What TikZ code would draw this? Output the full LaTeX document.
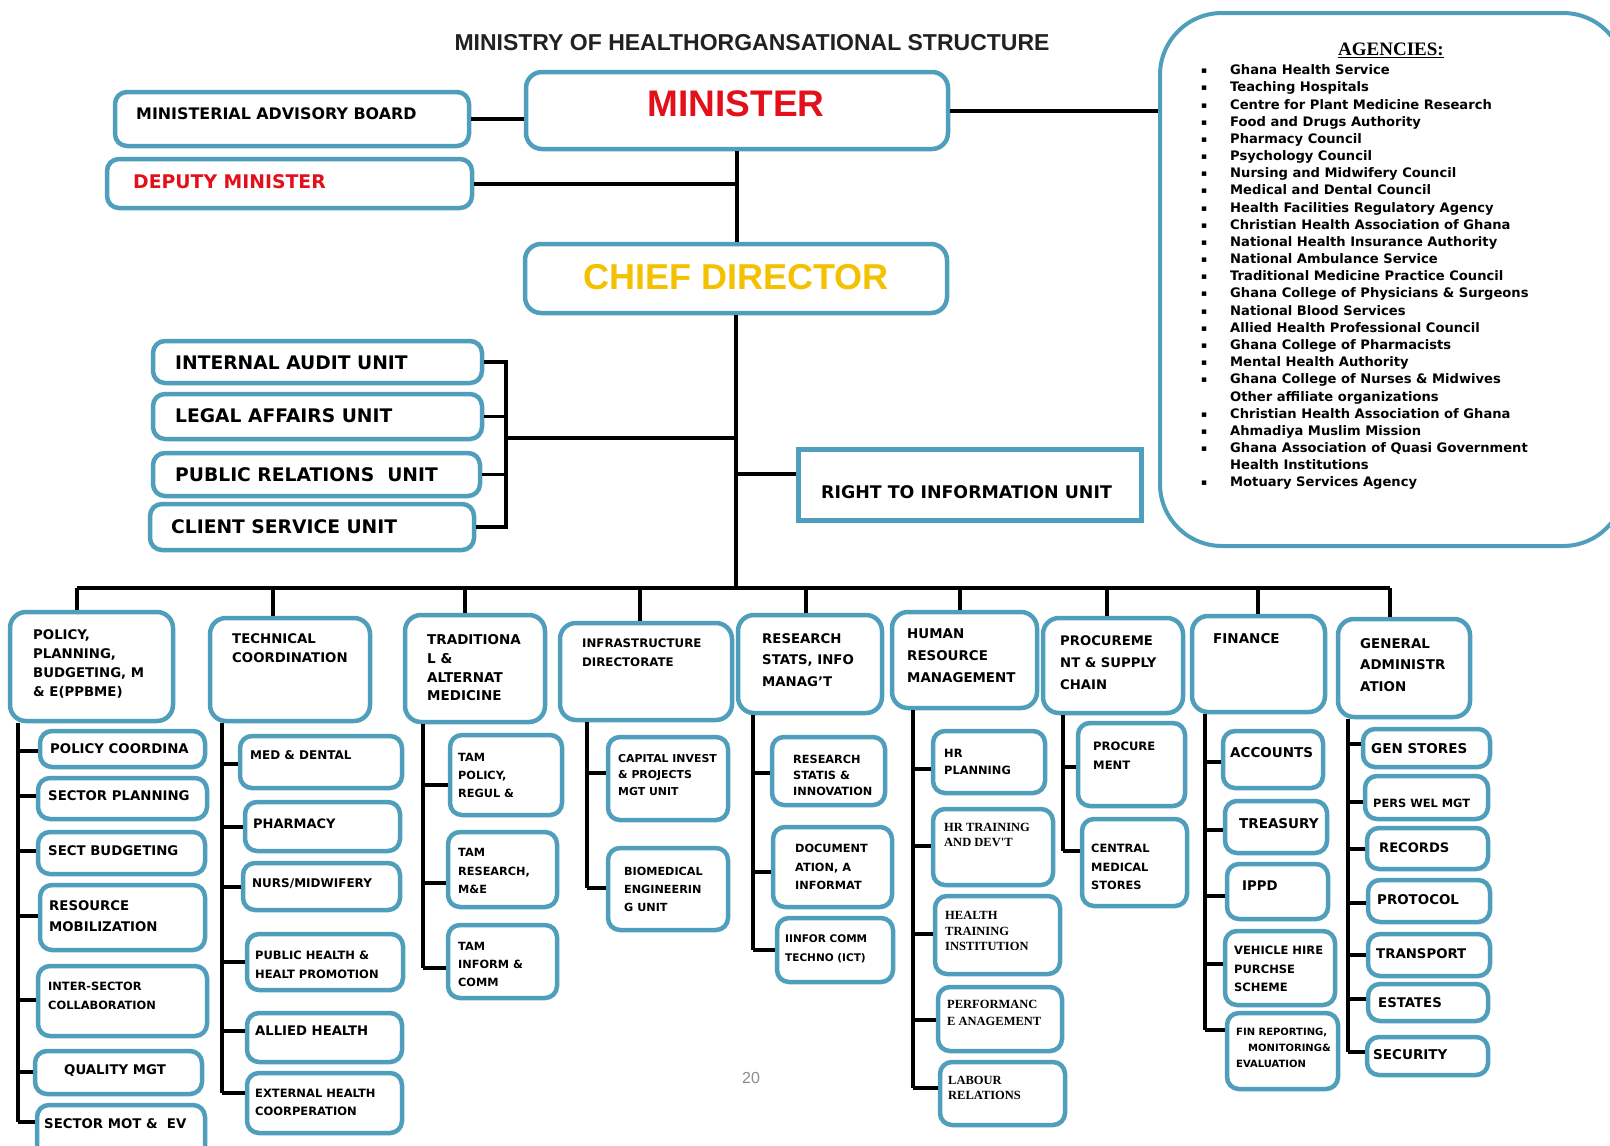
\documentclass[tikz,border=0pt]{standalone}
\usepackage{fontspec}
\setmainfont{DejaVu Sans}
\newfontfamily\mohArial{Liberation Sans}
\newfontfamily\mohSerif{Liberation Serif}
\newcommand{\mohF}[2]{\fontsize{#1}{#2}\selectfont}
\definecolor{bxblue}{HTML}{4E9EBC}
\definecolor{mred}{HTML}{E3101B}
\definecolor{mgold}{HTML}{F3C100}
\tikzset{
  ubx/.style={draw=bxblue, line width=4.5pt, rounded corners=12pt, fill=white, inner sep=0pt},
  hbx/.style={ubx, rounded corners=16pt},
  conn/.style={line width=3.5pt, black},
  txt/.style={anchor=west, inner sep=0pt, align=left, font=\bfseries\mohF{13.3}{19}},
  smtxt/.style={txt, font=\bfseries\mohF{11.3}{17.5}},
  sertxt/.style={txt, font=\mohSerif\bfseries\mohF{12.5}{15}},
  toptxt/.style={anchor=west, inner sep=0pt, font=\bfseries\mohF{18.7}{20}}
}
\newcommand{\ubox}[6][]{\node[ubx,#1,minimum width={#5-#3},minimum height={#6-#4}] (#2) at ({(#3+#5)/2},{(#4+#6)/2}) {};}
\newcommand{\utx}[5][]{\node[txt,#1] (#2) at (#3,#4) {#5};}
\newcommand{\ustub}[3]{\draw[conn] (#1 |- 0,#2) -- (#3.west |- 0,#2);}
\newcommand{\uvert}[3]{\draw[conn] (#1.south -| #2) -- (#2 |- 0,#3);}
\newcommand{\agb}{\makebox[29pt][l]{\raisebox{1pt}{\mohF{9}{9}▪}}}
\newcommand{\agn}{\makebox[29pt]{}}
\begin{document}
\begin{tikzpicture}[x=1pt,y=-1pt]
\useasboundingbox (0,0) rectangle (1610,1146);
\clip (0,0) rectangle (1610,1146);
\fill[white] (0,0) rectangle (1610,1146);

% title
\node[font=\mohArial\bfseries\mohF{23}{24}, text=black!87, inner sep=0pt] (title) at (752,43) {MINISTRY OF HEALTHORGANSATIONAL STRUCTURE};

% top boxes
\ubox{mab}{115}{92}{469}{146}
\ubox{dep}{107}{159}{472}{208}
\ubox[hbx]{min}{526}{72}{948}{149}
\ubox[hbx]{cd}{525}{244}{947}{313}
\ubox{ia}{153}{341}{482}{383}
\ubox{la}{153}{394}{482}{439}
\ubox{pr}{153}{453}{480}{496}
\ubox{cs}{150}{504}{474}{550}
\ubox[rounded corners=0pt, line width=5pt]{rti}{798}{449}{1141}{520}
\ubox[rounded corners=62pt, line width=4pt]{ag}{1160}{13}{1625}{546}

\node[toptxt, font=\bfseries\mohF{15.9}{16}] (tmab) at (136,114) {MINISTERIAL ADVISORY BOARD};
\node[toptxt, font=\bfseries\mohF{18.8}{19}, text=mred] (tdep) at (133,182) {DEPUTY MINISTER};
\node[font=\mohArial\bfseries\mohF{37}{37}, text=mred, inner sep=0pt] (tmin) at (736,104) {MINISTER};
\node[font=\mohArial\bfseries\mohF{36}{36}, text=mgold, inner sep=0pt] (tcd) at (736,277) {CHIEF DIRECTOR};
\node[toptxt] (tia) at (175,363) {INTERNAL AUDIT UNIT};
\node[toptxt] (tla) at (175,416) {LEGAL AFFAIRS UNIT};
\node[toptxt] (tpr) at (175,475) {PUBLIC RELATIONS\ \ UNIT};
\node[toptxt] (tcs) at (171,527) {CLIENT SERVICE UNIT};
\node[toptxt, font=\bfseries\mohF{17.4}{18}] (trti) at (821,492) {RIGHT TO INFORMATION UNIT};

% agencies
\node[font=\mohSerif\bfseries\mohF{19}{19}, inner sep=0pt] (agt) at (1391,50) {\underline{AGENCIES:}};
\node[anchor=north west, inner sep=0pt, align=left, font=\bfseries\mohF{13.1}{17.18}] (agl) at (1201,64.5) {%
\agb Ghana Health Service\\
\agb Teaching Hospitals\\
\agb Centre for Plant Medicine Research\\
\agb Food and Drugs Authority\\
\agb Pharmacy Council\\
\agb Psychology Council\\
\agb Nursing and Midwifery Council\\
\agb Medical and Dental Council\\
\agb Health Facilities Regulatory Agency\\
\agb Christian Health Association of Ghana\\
\agb National Health Insurance Authority\\
\agb National Ambulance Service\\
\agb Traditional Medicine Practice Council\\
\agb Ghana College of Physicians \& Surgeons\\
\agb National Blood Services\\
\agb Allied Health Professional Council\\
\agb Ghana College of Pharmacists\\
\agb Mental Health Authority\\
\agb Ghana College of Nurses \& Midwives\\
\agn Other affiliate organizations\\
\agb Christian Health Association of Ghana\\
\agb Ahmadiya Muslim Mission\\
\agb Ghana Association of Quasi Government\\
\agn Health Institutions\\
\agb Motuary Services Agency};

% top connectors
\draw[conn, line width=4pt] (mab.east) -- (mab.east -| min.west);
\draw[conn, line width=4pt] (dep.east) -- (dep.east -| min.south);
\draw[conn] (min.south) -- (min.south |- cd.north);
\draw[conn, line width=4pt] (min.east) -- (min.east -| ag.west);
\coordinate (brk) at (506,438);
\draw[conn] (ia.east) -- (ia.east -| brk) -- (cs.east -| brk) -- (cs.east);
\draw[conn] (la.east) -- (la.east -| brk);
\draw[conn] (pr.east) -- (pr.east -| brk);
\draw[conn] (brk) -- (brk -| cd.south);
\coordinate (rtij) at (736,474);
\draw[conn] (rtij -| cd.south) -- (rtij -| rti.west);

% bus
\coordinate (d1) at (77,588);
\coordinate (d2) at (273,588);
\coordinate (d3) at (465,588);
\coordinate (d4) at (640,588);
\coordinate (d5) at (806,588);
\coordinate (d6) at (960,588);
\coordinate (d7) at (1107,588);
\coordinate (d8) at (1258,588);
\coordinate (d9) at (1390,588);
\draw[conn] (cd.south) -- (cd.south |- d1);
\draw[conn] (d1) -- (d9);

% headers
\ubox[hbx]{h1}{10}{612}{173}{721}
\ubox[hbx]{h2}{210}{618}{370}{721}
\ubox[hbx]{h3}{405}{615}{545}{722}
\ubox[hbx]{h4}{560}{623}{732}{720}
\ubox[hbx]{h5}{738}{615}{882}{713}
\ubox[hbx]{h6}{892}{612}{1037}{708}
\ubox[hbx]{h7}{1043}{618}{1183}{713}
\ubox[hbx]{h8}{1192}{616}{1325}{712}
\ubox[hbx]{h9}{1338}{619}{1470}{717}
\foreach \k in {1,...,9} {\draw[conn] (d\k) -- (d\k |- h\k.north);}

\utx[font=\bfseries\mohF{13.3}{19.1}]{th1}{33}{664}{POLICY,\\PLANNING,\\BUDGETING, M\\\& E(PPBME)}
\utx{th2}{232}{648}{TECHNICAL\\COORDINATION}
\utx[font=\bfseries\mohF{13.5}{18.7}]{th3}{427}{668}{TRADITIONA\\L \&\\ALTERNAT\\MEDICINE}
\utx[font=\bfseries\mohF{11.8}{19}]{th4}{582}{653}{INFRASTRUCTURE\\DIRECTORATE}
\utx[font=\bfseries\mohF{13.3}{21.6}]{th5}{762}{660}{RESEARCH\\STATS, INFO\\MANAG'T}
\utx[font=\bfseries\mohF{13.4}{21.9}]{th6}{907}{656}{HUMAN\\RESOURCE\\MANAGEMENT}
\utx[font=\bfseries\mohF{13.2}{21.9}]{th7}{1060}{663}{PROCUREME\\NT \& SUPPLY\\CHAIN}
\utx[font=\bfseries\mohF{13.5}{19}]{th8}{1213}{639}{FINANCE}
\utx[font=\bfseries\mohF{13.4}{21.4}]{th9}{1360}{665}{GENERAL\\ADMINISTR\\ATION}

% column verticals
\coordinate (v1) at (18,0);
\coordinate (v2) at (222,0);
\coordinate (v3) at (423,0);
\coordinate (v4) at (587,0);
\coordinate (v5) at (753,0);
\coordinate (v6) at (913,0);
\coordinate (v7) at (1063,0);
\coordinate (v8) at (1205,0);
\coordinate (v9) at (1348,0);

% column 1
\ubox{s11}{40}{731}{205}{767}
\ubox{s12}{38}{778}{207}{819}
\ubox{s13}{38}{832}{205}{874}
\ubox{s14}{40}{885}{205}{950}
\ubox{s15}{38}{966}{207}{1036}
\ubox{s16}{35}{1051}{202}{1094}
\ubox{s17}{37}{1105}{205}{1160}
\uvert{h1}{v1}{1122}
\ustub{v1}{751}{s11}\ustub{v1}{796}{s12}\ustub{v1}{851}{s13}\ustub{v1}{916}{s14}
\ustub{v1}{1000}{s15}\ustub{v1}{1072}{s16}\ustub{v1}{1122}{s17}
\utx{ts11}{50}{749}{POLICY COORDINA}
\utx{ts12}{48}{796}{SECTOR PLANNING}
\utx{ts13}{48}{851}{SECT BUDGETING}
\utx[font=\bfseries\mohF{13.3}{21}]{ts14}{49}{916}{RESOURCE\\MOBILIZATION}
\utx[font=\bfseries\mohF{11.4}{19}]{ts15}{48}{996}{INTER-SECTOR\\COLLABORATION}
\utx{ts16}{64}{1071}{QUALITY MGT}
\utx{ts17}{44}{1124}{SECTOR MOT \&\ \ EV}

% column 2
\ubox{s21}{240}{736}{402}{788}
\ubox{s22}{245}{802}{400}{851}
\ubox{s23}{243}{863}{400}{910}
\ubox{s24}{247}{934}{403}{990}
\ubox{s25}{247}{1013}{402}{1062}
\ubox{s26}{247}{1073}{402}{1133}
\uvert{h2}{v2}{1093}
\ustub{v2}{764}{s21}\ustub{v2}{827}{s22}\ustub{v2}{887}{s23}\ustub{v2}{962}{s24}
\ustub{v2}{1031}{s25}\ustub{v2}{1093}{s26}
\utx[font=\bfseries\mohF{12}{18}]{ts21}{250}{755}{MED \& DENTAL}
\utx[font=\bfseries\mohF{13}{18}]{ts22}{253}{824}{PHARMACY}
\utx[font=\bfseries\mohF{12}{18}]{ts23}{252}{884}{NURS/MIDWIFERY}
\utx[font=\bfseries\mohF{11.5}{18.8}]{ts24}{255}{965}{PUBLIC HEALTH \&\\HEALT PROMOTION}
\utx[font=\bfseries\mohF{13.2}{18}]{ts25}{255}{1031}{ALLIED HEALTH}
\utx[font=\bfseries\mohF{11.5}{17.8}]{ts26}{255}{1102}{EXTERNAL HEALTH\\COORPERATION}

% column 3
\ubox{s31}{450}{735}{562}{815}
\ubox{s32}{448}{832}{557}{907}
\ubox{s33}{448}{925}{557}{998}
\uvert{h3}{v3}{968}
\ustub{v3}{785}{s31}\ustub{v3}{883}{s32}\ustub{v3}{968}{s33}
\utx[smtxt, font=\bfseries\mohF{11.3}{18}]{ts31}{458}{775}{TAM\\POLICY,\\REGUL \&}
\utx[smtxt, font=\bfseries\mohF{11.3}{18.5}]{ts32}{458}{871}{TAM\\RESEARCH,\\M\&E}
\utx[smtxt, font=\bfseries\mohF{11.3}{18}]{ts33}{458}{964}{TAM\\INFORM \&\\COMM}

% column 4
\ubox{s41}{608}{737}{728}{820}
\ubox{s42}{608}{848}{728}{930}
\uvert{h4}{v4}{888}
\ustub{v4}{773}{s41}\ustub{v4}{888}{s42}
\utx[font=\bfseries\mohF{10.9}{16.5}]{ts41}{618}{775}{CAPITAL INVEST\\\& PROJECTS\\MGT UNIT}
\utx[font=\bfseries\mohF{11.2}{18}]{ts42}{624}{889}{BIOMEDICAL\\ENGINEERIN\\G UNIT}

% column 5
\ubox{s51}{772}{737}{885}{805}
\ubox{s52}{773}{827}{892}{907}
\ubox{s53}{777}{918}{893}{982}
\uvert{h5}{v5}{950}
\ustub{v5}{773}{s51}\ustub{v5}{872}{s52}\ustub{v5}{950}{s53}
\utx[font=\bfseries\mohF{11.3}{16}]{ts51}{793}{775}{RESEARCH\\STATIS \&\\INNOVATION}
\utx[font=\bfseries\mohF{11.3}{18.5}]{ts52}{795}{867}{DOCUMENT\\ATION, A\\INFORMAT}
\utx[font=\bfseries\mohF{10.5}{19}]{ts53}{785}{949}{IINFOR COMM\\TECHNO (ICT)}

% column 6
\ubox{s61}{933}{731}{1045}{793}
\ubox{s62}{933}{809}{1053}{885}
\ubox{s63}{935}{896}{1060}{974}
\ubox{s64}{938}{987}{1062}{1051}
\ubox{s65}{940}{1062}{1065}{1125}
\uvert{h6}{v6}{1088}
\ustub{v6}{769}{s61}\ustub{v6}{846}{s62}\ustub{v6}{934}{s63}\ustub{v6}{1020}{s64}\ustub{v6}{1088}{s65}
\utx[font=\bfseries\mohF{11.4}{17.8}]{ts61}{944}{762}{HR\\PLANNING}
\utx[sertxt, font=\mohSerif\bfseries\mohF{12.5}{14.6}]{ts62}{944}{835}{HR TRAINING\\AND DEV'T}
\utx[sertxt, font=\mohSerif\bfseries\mohF{12.5}{15.7}]{ts63}{945}{931}{HEALTH\\TRAINING\\INSTITUTION}
\utx[sertxt, font=\mohSerif\bfseries\mohF{12.5}{16.7}]{ts64}{947}{1013}{PERFORMANC\\E ANAGEMENT}
\utx[sertxt, font=\mohSerif\bfseries\mohF{12.5}{14.6}]{ts65}{948}{1088}{LABOUR\\RELATIONS}

% column 7
\ubox{s71}{1078}{723}{1185}{806}
\ubox{s72}{1082}{819}{1187}{906}
\uvert{h7}{v7}{851}
\ustub{v7}{767}{s71}\ustub{v7}{851}{s72}
\utx[font=\bfseries\mohF{11.6}{18.8}]{ts71}{1093}{756}{PROCURE\\MENT}
\utx[font=\bfseries\mohF{11.4}{18.8}]{ts72}{1091}{867}{CENTRAL\\MEDICAL\\STORES}

% column 8
\ubox{s81}{1223}{731}{1323}{788}
\ubox{s82}{1225}{801}{1327}{853}
\ubox{s83}{1227}{864}{1328}{919}
\ubox{s84}{1225}{931}{1335}{1005}
\ubox{s85}{1227}{1013}{1338}{1089}
\uvert{h8}{v8}{1030}
\ustub{v8}{762}{s81}\ustub{v8}{830}{s82}\ustub{v8}{896}{s83}\ustub{v8}{964}{s84}\ustub{v8}{1030}{s85}
\utx[font=\bfseries\mohF{13.5}{18}]{ts81}{1230}{753}{ACCOUNTS}
\utx[font=\bfseries\mohF{13.5}{18}]{ts82}{1239}{824}{TREASURY}
\utx[font=\bfseries\mohF{13.3}{18}]{ts83}{1242}{886}{IPPD}
\utx[font=\bfseries\mohF{11.5}{18.3}]{ts84}{1234}{969}{VEHICLE HIRE\\PURCHSE\\SCHEME}
\utx[font=\bfseries\mohF{10}{16.2}]{ts85}{1236}{1048}{FIN REPORTING,\\\makebox[12pt]{}MONITORING\&\\EVALUATION}

% column 9
\ubox{s91}{1363}{729}{1490}{767}
\ubox{s92}{1365}{776}{1488}{819}
\ubox{s93}{1367}{828}{1488}{869}
\ubox{s94}{1368}{880}{1490}{922}
\ubox{s95}{1368}{934}{1490}{976}
\ubox{s96}{1368}{984}{1488}{1021}
\ubox{s97}{1367}{1037}{1488}{1075}
\uvert{h9}{v9}{1052}
\ustub{v9}{744}{s91}\ustub{v9}{802}{s92}\ustub{v9}{849}{s93}\ustub{v9}{903}{s94}
\ustub{v9}{955}{s95}\ustub{v9}{999}{s96}\ustub{v9}{1052}{s97}
\utx[font=\bfseries\mohF{13.5}{18}]{ts91}{1371}{749}{GEN STORES}
\utx[font=\bfseries\mohF{11.4}{18}]{ts92}{1373}{803}{PERS WEL MGT}
\utx[font=\bfseries\mohF{13.1}{18}]{ts93}{1379}{848}{RECORDS}
\utx[font=\bfseries\mohF{13.4}{18}]{ts94}{1377}{900}{PROTOCOL}
\utx[font=\bfseries\mohF{13.3}{18}]{ts95}{1376}{954}{TRANSPORT}
\utx[font=\bfseries\mohF{13.3}{18}]{ts96}{1378}{1003}{ESTATES}
\utx[font=\bfseries\mohF{13.5}{18}]{ts97}{1373}{1055}{SECURITY}

% page number
\node[font=\mohArial\mohF{16}{16}, text=black!45, inner sep=0pt] (pg) at (751,1078) {20};
\end{tikzpicture}
\end{document}
